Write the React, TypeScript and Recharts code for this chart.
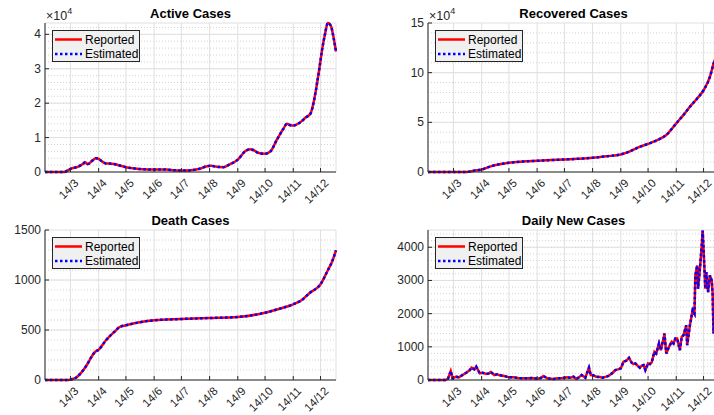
import React from 'react'
import { LineChart, Line, XAxis, YAxis, CartesianGrid, Legend } from 'recharts'

type Pt = [string, number]

// dates are day/month of 2020, like the tick labels
const monthTicks = ['14/3', '14/4', '14/5', '14/6', '14/7', '14/8', '14/9', '14/10', '14/11', '14/12']

const activeReported: Pt[] = [
  ['15/2', 0], ['7/3', 0], ['10/3', 300], ['14/3', 900], ['22/3', 1500], ['28/3', 2400],
  ['30/3', 2800], ['2/4', 2300], ['7/4', 3300], ['11/4', 4000], ['14/4', 3800], ['18/4', 3000],
  ['22/4', 2500], ['28/4', 2400], ['3/5', 2200], ['8/5', 1800], ['14/5', 1400], ['21/5', 1100],
  ['28/5', 900], ['7/6', 750], ['14/6', 700], ['21/6', 750], ['28/6', 700], ['7/7', 500],
  ['14/7', 400], ['22/7', 450], ['30/7', 700], ['5/8', 1100], ['10/8', 1600], ['16/8', 1800],
  ['22/8', 1500], ['29/8', 1400], ['5/9', 2200], ['14/9', 3600], ['22/9', 6000], ['27/9', 6600],
  ['1/10', 6400], ['7/10', 5500], ['14/10', 5300], ['20/10', 6000], ['27/10', 9400], ['3/11', 12500],
  ['7/11', 14000], ['11/11', 13600], ['14/11', 13500], ['21/11', 14300], ['28/11', 15900], ['3/12', 17000],
  ['7/12', 21000], ['10/12', 25500], ['13/12', 30600], ['16/12', 36000], ['19/12', 40200], ['22/12', 43300],
  ['24/12', 43000], ['26/12', 42000], ['28/12', 39500], ['31/12', 35000],
]
const activeEstimated: Pt[] = activeReported

const recoveredReported: Pt[] = [
  ['15/2', 0], ['28/3', 0], ['31/3', 300], ['5/4', 1200], ['14/4', 2500], ['24/4', 5700],
  ['4/5', 7800], ['14/5', 9300], ['29/5', 10500], ['14/6', 11300], ['29/6', 12000], ['14/7', 12600],
  ['29/7', 13300], ['14/8', 14300], ['29/8', 15800], ['14/9', 17700], ['24/9', 20700], ['4/10', 25000],
  ['14/10', 28300], ['24/10', 32000], ['3/11', 37300], ['14/11', 49000], ['22/11', 57500], ['29/11', 65700],
  ['7/12', 74000], ['14/12', 82300], ['21/12', 95700], ['25/12', 109000], ['28/12', 117000], ['31/12', 126000],
]
const recoveredEstimated: Pt[] = recoveredReported

const deathReported: Pt[] = [
  ['15/2', 0], ['12/3', 0], ['16/3', 10], ['20/3', 23], ['24/3', 55], ['28/3', 97],
  ['2/4', 165], ['6/4', 230], ['10/4', 280], ['14/4', 303], ['22/4', 397], ['3/5', 497],
  ['7/5', 530], ['14/5', 547], ['29/5', 577], ['14/6', 597], ['14/7', 610], ['14/8', 620],
  ['14/9', 630], ['14/10', 673], ['30/10', 713], ['14/11', 757], ['23/11', 797], ['2/12', 870],
  ['14/12', 957], ['22/12', 1097], ['27/12', 1190], ['31/12', 1297],
]
const deathEstimated: Pt[] = deathReported

const dailyReported: Pt[] = [
  ['15/2', 0], ['5/3', 0], ['8/3', 40], ['11/3', 270], ['13/3', 50], ['17/3', 100], ['20/3', 80],
  ['24/3', 150], ['28/3', 220], ['1/4', 300], ['3/4', 370], ['6/4', 320], ['8/4', 400], ['10/4', 300],
  ['12/4', 200], ['15/4', 220], ['19/4', 180], ['22/4', 200], ['24/4', 240], ['28/4', 150], ['1/5', 170],
  ['4/5', 140], ['9/5', 120], ['14/5', 80], ['19/5', 80], ['24/5', 60], ['29/5', 50], ['3/6', 50],
  ['8/6', 60], ['14/6', 40], ['18/6', 60], ['21/6', 120], ['25/6', 50], ['29/6', 40], ['2/7', 30],
  ['7/7', 50], ['12/7', 60], ['17/7', 80], ['21/7', 70], ['24/7', 100], ['27/7', 30], ['30/7', 80],
  ['2/8', 150], ['6/8', 70], ['10/8', 370], ['12/8', 150], ['15/8', 140], ['18/8', 100], ['22/8', 90],
  ['25/8', 70], ['29/8', 100], ['1/9', 130], ['5/9', 220], ['8/9', 300], ['11/9', 320], ['14/9', 350],
  ['17/9', 550], ['20/9', 580], ['23/9', 670], ['26/9', 520], ['28/9', 480], ['30/9', 500], ['3/10', 420],
  ['5/10', 370], ['7/10', 430], ['9/10', 450], ['11/10', 300], ['14/10', 500], ['16/10', 480], ['18/10', 530],
  ['21/10', 850], ['23/10', 800], ['26/10', 1100], ['28/10', 900], ['31/10', 1250], ['1/11', 1400], ['3/11', 800],
  ['6/11', 1000], ['9/11', 1150], ['11/11', 1100], ['13/11', 1250], ['15/11', 1250], ['18/11', 900], ['20/11', 1300],
  ['22/11', 1350], ['25/11', 1650], ['26/11', 1050], ['29/11', 1650], ['2/12', 2100], ['4/12', 2000], ['5/12', 3150],
  ['7/12', 3450], ['8/12', 2750], ['10/12', 3350], ['12/12', 4050], ['13/12', 4500], ['14/12', 3950], ['16/12', 2750],
  ['17/12', 3250], ['19/12', 2650], ['21/12', 3150], ['23/12', 3000], ['24/12', 2600], ['25/12', 1400], ['27/12', 2500],
  ['29/12', 2200], ['31/12', 2500],
]
const dailyEstimated: Pt[] = dailyReported

const FONT = '"Liberation Sans", Arial, Helvetica, sans-serif'
const INK = '#262626'

const START = Date.UTC(2020, 1, 15)
const dayOf = (s: string) => {
  const [d, m] = s.split('/').map(Number)
  return (Date.UTC(2020, m - 1, d) - START) / 86400000
}
const X_END = dayOf('31/12')
const xTicks = monthTicks.map(dayOf)
const labelOf = new Map(xTicks.map((d, i) => [d, monthTicks[i]]))

const rows = (rep: Pt[], est: Pt[]) =>
  rep.map(([d, v], i) => ({ x: dayOf(d), rep: v, est: est[i][1] }))

const minorLines = (max: number, step: number) => {
  const out: number[] = []
  for (let v = step; v < max; v += step) out.push(v)
  return out
}

const LegendBox = () => (
  <div style={{ width: 88, height: 32, boxSizing: 'border-box', border: `1px solid ${INK}`, background: '#f0f0f0', position: 'relative' }}>
    <svg width={88} height={32} style={{ position: 'absolute', left: -1, top: -1 }}>
      <line x1={3} x2={30} y1={9.5} y2={9.5} stroke="#ff0000" strokeWidth={2.5} />
      <line x1={3} x2={30} y1={24} y2={24} stroke="#0000ff" strokeWidth={2.5} strokeDasharray="2.5 2.5" />
      <text x={33} y={9.5} dominantBaseline="central" fontFamily={FONT} fontSize={12} fill="#000">Reported</text>
      <text x={33} y={24} dominantBaseline="central" fontFamily={FONT} fontSize={12} fill="#000">Estimated</text>
    </svg>
  </div>
)

type PanelProps = {
  left: number
  top: number
  width: number
  plotLeft: number
  plotRight: number
  plotBottom: number
  title: string
  data: { x: number; rep: number; est: number }[]
  yMax: number
  yTicks: number[]
  minorStep: number
  exp?: boolean
  smooth?: boolean
}

const H = 207
const PLOT_TOP = 23

function Panel({ left, top, width, plotLeft, plotRight, plotBottom, title, data, yMax, yTicks, minorStep, exp, smooth }: PanelProps) {
  const fmt = (v: number) => (exp ? String(v / 10000) : String(v))
  const XTick = (props: any) => {
    const cx = props.payload.coordinate
    const ax = cx + 6
    const ay = plotBottom + 9
    return (
      <text x={ax} y={ay} textAnchor="end" dominantBaseline="central" transform={`rotate(-45 ${ax} ${ay})`}
        fontFamily={FONT} fontSize={11.5} fill={INK}>
        {labelOf.get(props.payload.value)}
      </text>
    )
  }
  const YTick = (props: any) => (
    <text x={plotLeft - 4} y={props.payload.coordinate} textAnchor="end" dominantBaseline="central"
      fontFamily={FONT} fontSize={12} fill={INK}>
      {fmt(props.payload.value)}
    </text>
  )
  const type = smooth ? 'monotone' : 'linear'
  return (
    <div style={{ position: 'absolute', left, top, width, height: H }}>
      <LineChart width={width} height={H} data={data}
        margin={{ top: PLOT_TOP, left: 0, right: width - plotRight, bottom: H - plotBottom - 30 }}>
        <CartesianGrid vertical={false} horizontalValues={minorLines(yMax, minorStep)} stroke="#d2d2d2" strokeDasharray="1 2" />
        <CartesianGrid stroke="#e0e0e0" />
        <XAxis dataKey="x" type="number" domain={[0, X_END]} ticks={xTicks} interval={0}
          height={30} axisLine={{ stroke: INK }} tickLine={{ stroke: INK }} tickSize={-4} tick={<XTick />} />
        <XAxis xAxisId="top" orientation="top" dataKey="x" type="number" domain={[0, X_END]} ticks={xTicks} interval={0}
          height={0} axisLine={{ stroke: INK }} tickLine={{ stroke: INK }} tickSize={-4} tick={false} />
        <YAxis type="number" domain={[0, yMax]} ticks={yTicks} interval={0} width={plotLeft}
          axisLine={{ stroke: INK }} tickLine={{ stroke: INK }} tickSize={-4} tick={<YTick />} />
        <YAxis yAxisId="right" orientation="right" type="number" domain={[0, yMax]} ticks={yTicks} interval={0}
          width={0} axisLine={{ stroke: INK }} tickLine={{ stroke: INK }} tickSize={-4} tick={false} />
        <Legend content={() => <LegendBox />} layout="horizontal" verticalAlign="middle" align="center"
          wrapperStyle={{ left: plotLeft + 7, top: PLOT_TOP + 7, width: 88, height: 32 }} />
        <Line type={type} dataKey="rep" name="Reported" stroke="#ff0000" strokeWidth={2.5} dot={false} isAnimationActive={false} />
        <Line type={type} dataKey="est" name="Estimated" stroke="#0000ff" strokeWidth={2.5} strokeDasharray="2.5 2.5" dot={false} isAnimationActive={false} />
      </LineChart>
      <svg width={width} height={H} style={{ position: 'absolute', left: 0, top: 0, pointerEvents: 'none' }}>
        <text x={(plotLeft + plotRight) / 2} y={PLOT_TOP - 5} textAnchor="middle" fontFamily={FONT} fontSize={13} fontWeight="bold" fill="#000">
          {title}
        </text>
        {exp && (
          <text x={plotLeft + 1} y={PLOT_TOP - 3} fontFamily={FONT} fontSize={12.5} fill={INK}>
            ×10<tspan dy={-6} fontSize={9}>4</tspan>
          </text>
        )}
      </svg>
    </div>
  )
}

export default function App() {
  return (
    <div style={{ position: 'absolute', left: 0, top: 0, width: 714, height: 415, overflow: 'hidden', background: '#fff' }}>
      <Panel left={0} top={0} width={357} plotLeft={45} plotRight={336} plotBottom={172} title="Active Cases"
        data={rows(activeReported, activeEstimated)} yMax={43300} yTicks={[0, 10000, 20000, 30000, 40000]} minorStep={2000} exp smooth />
      <Panel left={357} top={0} width={380} plotLeft={71} plotRight={362} plotBottom={172} title="Recovered Cases"
        data={rows(recoveredReported, recoveredEstimated)} yMax={150000} yTicks={[0, 50000, 100000, 150000]} minorStep={10000} exp smooth />
      <Panel left={0} top={207} width={357} plotLeft={45} plotRight={336} plotBottom={173} title="Death Cases"
        data={rows(deathReported, deathEstimated)} yMax={1500} yTicks={[0, 500, 1000, 1500]} minorStep={100} smooth />
      <Panel left={357} top={207} width={380} plotLeft={71} plotRight={362} plotBottom={173} title="Daily New Cases"
        data={rows(dailyReported, dailyEstimated)} yMax={4520} yTicks={[0, 1000, 2000, 3000, 4000]} minorStep={200} />
    </div>
  )
}
